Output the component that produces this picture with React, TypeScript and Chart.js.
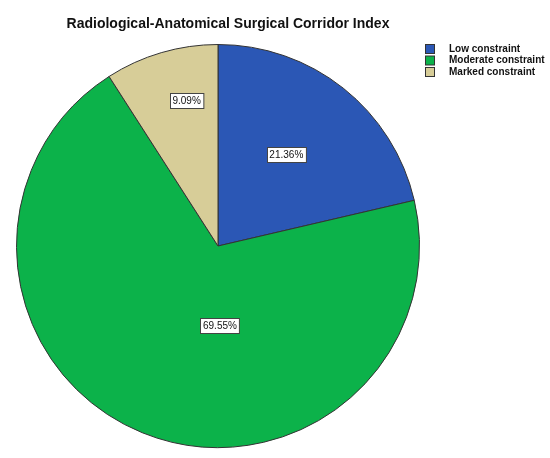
import React, { useEffect, useRef } from "react";
import { Chart, registerables } from "chart.js";

Chart.register(...registerables);

const TITLE = "Radiological-Anatomical Surgical Corridor Index";
const categories = ["Low constraint", "Moderate constraint", "Marked constraint"];
const percentages = [21.36, 69.55, 9.09];
const colors = ["#2B57B5", "#0CB24A", "#D7CD98"];
// label placement relative to the slice: [angle from top in degrees, fraction of radius]
const labelAngles = [36.8, 178.6, 347.8];
const labelRadii = [0.566, 0.394, 0.737];

const FONT = "'Liberation Sans', Arial, sans-serif";

export default function App() {
  const ref = useRef<HTMLCanvasElement | null>(null);

  useEffect(() => {
    document.body.style.margin = "0";
    const canvas = ref.current;
    if (!canvas) return;

    const overlay = {
      id: "overlay",
      afterDraw(chart: any) {
        const ctx = chart.ctx as CanvasRenderingContext2D;
        // title
        ctx.save();
        ctx.fillStyle = "#111";
        ctx.font = `bold 14px ${FONT}`;
        ctx.textAlign = "center";
        ctx.textBaseline = "alphabetic";
        ctx.fillText(TITLE, 228, 28);
        ctx.restore();

        // legend
        ctx.save();
        categories.forEach((c, i) => {
          const y = 44 + i * 11.5;
          ctx.fillStyle = colors[i];
          ctx.fillRect(425.5, y + 0.5, 9, 9);
          ctx.strokeStyle = "#333";
          ctx.lineWidth = 1;
          ctx.strokeRect(425.5, y + 0.5, 9, 9);
          ctx.fillStyle = "#111";
          ctx.font = `bold 10px ${FONT}`;
          ctx.textAlign = "left";
          ctx.textBaseline = "middle";
          ctx.fillText(c, 449, y + 5);
        });
        ctx.restore();

        // value labels
        const meta = chart.getDatasetMeta(0);
        ctx.save();
        ctx.font = `10px ${FONT}`;
        ctx.textAlign = "center";
        ctx.textBaseline = "middle";
        meta.data.forEach((arc: any, i: number) => {
          const { x, y, outerRadius } = arc.getProps(["x", "y", "outerRadius"], true);
          const a = (labelAngles[i] * Math.PI) / 180;
          const r = outerRadius * labelRadii[i];
          const lx = x + r * Math.sin(a);
          const ly = y - r * Math.cos(a);
          const text = percentages[i].toFixed(2) + "%";
          const w = ctx.measureText(text).width + 5;
          const h = 15;
          const bx = Math.round(lx - w / 2) + 0.5;
          const by = Math.round(ly - h / 2) + 0.5;
          ctx.fillStyle = "#ffffff";
          ctx.fillRect(bx, by, w, h);
          ctx.strokeStyle = "#444";
          ctx.lineWidth = 1;
          ctx.strokeRect(bx, by, w, h);
          ctx.fillStyle = "#111";
          ctx.fillText(text, lx, ly + 0.5);
        });
        ctx.restore();
      },
    };

    const chart = new Chart(canvas, {
      type: "pie",
      data: {
        labels: categories,
        datasets: [
          {
            data: percentages,
            backgroundColor: colors,
            borderColor: "#333333",
            borderWidth: 1,
            hoverOffset: 0,
          },
        ],
      },
      options: {
        responsive: true,
        maintainAspectRatio: false,
        animation: false,
        layout: { padding: { left: 16, right: 130, top: 44, bottom: 10 } },
        plugins: {
          legend: { display: false },
          title: { display: false },
          tooltip: { enabled: false },
        },
        events: [],
      },
      plugins: [overlay],
    });

    return () => chart.destroy();
  }, []);

  return (
    <div style={{ position: "relative", width: 550, height: 458, background: "#fff" }}>
      <canvas ref={ref} />
    </div>
  );
}
